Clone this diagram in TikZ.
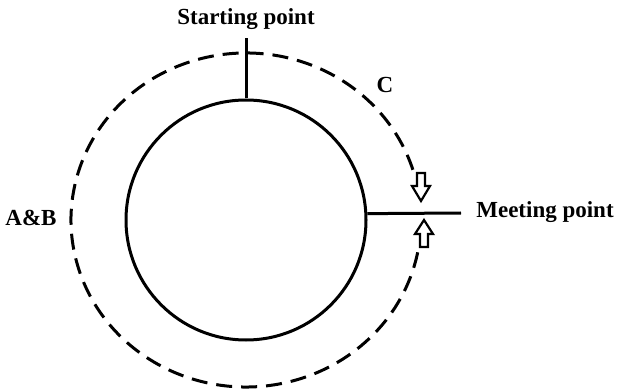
\documentclass[tikz,border=0pt]{standalone}
\usepackage{fontspec}
\setmainfont{Liberation Serif}
\begin{document}
\begin{tikzpicture}[x=1pt,y=-1pt,
  lbl/.style={font=\fontsize{23}{26}\selectfont\bfseries, inner sep=0pt, anchor=base},
  solidline/.style={line width=3pt},
  dashline/.style={line width=3pt, dash pattern=on 16pt off 9pt},
  blockarrow/.style={line width=2.2pt, line join=miter, fill=white}]
\useasboundingbox (0,0) rectangle (619,390);
\coordinate (c) at (246,220);
\node[circle, draw, solidline, minimum size=240pt, inner sep=0pt] (inner) at (c) {};
% outer dashed path
\draw[dashline] (c) ++(17.5:175pt and 167pt) arc[start angle=17.5, end angle=350, x radius=175pt, y radius=167pt];
% labels
\node[lbl] (sp) at (246,25) {Starting point};
\node[lbl] (mp) at (545,218) {Meeting point};
\node[lbl] (ab) at (31,226) {A\&B};
\node[lbl] (cl) at (385,93) {C};
% connectors
\coordinate (spend) at (246,38);
\coordinate (mpend) at (461,213);
\draw[solidline] (inner.north) -- (spend);
\draw[solidline] (inner.3) -- (mpend);
% block arrows
\draw[blockarrow] (417,173) -- (425,173) -- (425,186) -- (430,186) -- (421,201) -- (412,186) -- (417,186) -- cycle;
\draw[blockarrow] (420,247) -- (428,247) -- (428,234) -- (433,234) -- (424,220) -- (415,234) -- (420,234) -- cycle;
\end{tikzpicture}
\end{document}
